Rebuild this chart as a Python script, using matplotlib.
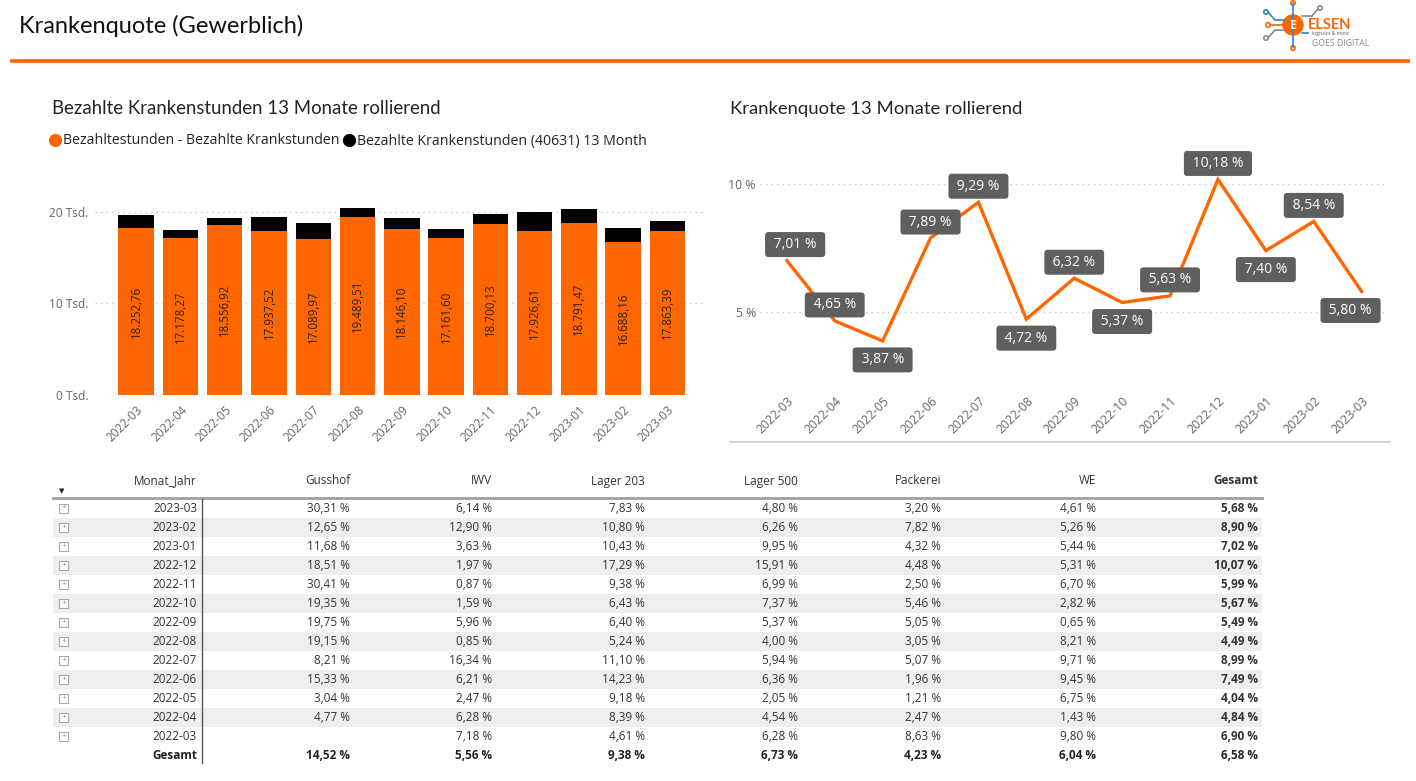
import matplotlib
matplotlib.use("Agg")
import matplotlib.pyplot as plt
from matplotlib.lines import Line2D
from matplotlib.patches import Circle, Rectangle

# ---------------- data ----------------
months = ["2022-03", "2022-04", "2022-05", "2022-06", "2022-07", "2022-08", "2022-09",
          "2022-10", "2022-11", "2022-12", "2023-01", "2023-02", "2023-03"]
paid_minus_sick = [18252.76, 17178.27, 18556.92, 17937.52, 17089.97, 19489.51, 18146.10,
                   17161.60, 18700.13, 17926.61, 18791.47, 16688.16, 17863.39]
sick_hours = [1376, 838, 747, 1536, 1750, 965, 1224, 974, 1116, 2032, 1502, 1558, 1100]
sick_rate = [7.01, 4.65, 3.87, 7.89, 9.29, 4.72, 6.32, 5.37, 5.63, 10.18, 7.40, 8.54, 5.80]
label_side = ["above", "above", "below", "above", "above", "below", "above",
              "below", "above", "above", "below", "above", "below"]

tbl_rows = ["2023-03", "2023-02", "2023-01", "2022-12", "2022-11", "2022-10", "2022-09",
            "2022-08", "2022-07", "2022-06", "2022-05", "2022-04", "2022-03"]
tbl_cols = ["Gusshof", "IWV", "Lager 203", "Lager 500", "Packerei", "WE", "Gesamt"]
gusshof = [30.31, 12.65, 11.68, 18.51, 30.41, 19.35, 19.75, 19.15, 8.21, 15.33, 3.04, 4.77, None]
iwv = [6.14, 12.90, 3.63, 1.97, 0.87, 1.59, 5.96, 0.85, 16.34, 6.21, 2.47, 6.28, 7.18]
lager203 = [7.83, 10.80, 10.43, 17.29, 9.38, 6.43, 6.40, 5.24, 11.10, 14.23, 9.18, 8.39, 4.61]
lager500 = [4.80, 6.26, 9.95, 15.91, 6.99, 7.37, 5.37, 4.00, 5.94, 6.36, 2.05, 4.54, 6.28]
packerei = [3.20, 7.82, 4.32, 4.48, 2.50, 5.46, 5.05, 3.05, 5.07, 1.96, 1.21, 2.47, 8.63]
we = [4.61, 5.26, 5.44, 5.31, 6.70, 2.82, 0.65, 8.21, 9.71, 9.45, 6.75, 1.43, 9.80]
gesamt = [5.68, 8.90, 7.02, 10.07, 5.99, 5.67, 5.49, 4.49, 8.99, 7.49, 4.04, 4.84, 6.90]
tbl_totals = [14.52, 5.56, 9.38, 6.73, 4.23, 6.04, 6.58]

# ---------------- style ----------------
plt.rcParams["font.family"] = ["Open Sans", "DejaVu Sans"]
ORANGE = "#FF6600"
TXT = "#252423"
W, H = 1416, 781

fig = plt.figure(figsize=(W / 100, H / 100), dpi=100)
fig.patch.set_facecolor("white")


def rect(x0, y0, x1, y1):
    return [x0 / W, 1 - y1 / H, (x1 - x0) / W, (y1 - y0) / H]


bg = fig.add_axes([0, 0, 1, 1], zorder=0)
bg.set_xlim(0, W)
bg.set_ylim(H, 0)
bg.axis("off")

# header
bg.text(19, 26, "Krankenquote (Gewerblich)", fontsize=17, color="#111111",
        ha="left", va="center", family=["Lato", "DejaVu Sans"])
bg.plot([10, 1410], [61, 61], color=ORANGE, lw=2.6, solid_capstyle="butt")

# logo
for (xs, ys, c) in [([1293, 1293], [3, 47], "#2E86C1"),
                    ([1284, 1275, 1268], [20, 20, 12], "#2E86C1"),
                    ([1283, 1270], [25, 25], ORANGE),
                    ([1284, 1275, 1268], [30, 30, 38], "#888888"),
                    ([1302, 1312, 1318], [16, 16, 9], "#888888"),
                    ([1302, 1308], [33, 33], "#2E86C1")]:
    bg.plot(xs, ys, color=c, lw=1.2)
for (cx, cy, c) in [(1266, 12, "#2E86C1"), (1268, 25, ORANGE), (1266, 38, "#888888"),
                    (1293, 3, ORANGE), (1293, 48, ORANGE), (1320, 8, "#888888")]:
    bg.add_patch(Circle((cx, cy), 2.2, fc="white", ec=c, lw=1.2))
bg.add_patch(Circle((1293, 25), 10, fc=ORANGE, ec=ORANGE))
bg.text(1293, 25.5, "E", color="white", fontsize=9, fontweight="bold", ha="center", va="center")
bg.text(1308, 25, "ELSEN", color=ORANGE, fontsize=10.5, fontweight="bold", ha="left", va="center",
        family=["Lato", "DejaVu Sans"])
bg.text(1312, 34, "logistics & more", color="#555555", fontsize=3.6, ha="left", va="center")
bg.text(1312, 43.5, "GOES DIGITAL", color="#888888", fontsize=6.3, ha="left", va="center")

# ---------------- bar chart ----------------
bg.text(52, 109, "Bezahlte Krankenstunden 13 Monate rollierend", fontsize=13.4, color=TXT,
        ha="left", va="center", family=["Lato", "DejaVu Sans"])

ax1 = fig.add_axes(rect(95, 200, 706, 395), zorder=2)
x = list(range(len(months)))
ax1.bar(x, paid_minus_sick, width=0.8, color=ORANGE, zorder=2,
        label="Bezahltestunden - Bezahlte Krankstunden")
ax1.bar(x, sick_hours, bottom=paid_minus_sick, width=0.8, color="black", zorder=2,
        label="Bezahlte Krankenstunden (40631) 13 Month")
for i, v in enumerate(paid_minus_sick):
    s = f"{v:,.2f}".replace(",", "X").replace(".", ",").replace("X", ".")
    ax1.text(i, v / 2, s, rotation=90, ha="center", va="center", fontsize=8.3, color=TXT, zorder=3)
ax1.set_xlim(-0.93, 12.87)
ax1.set_ylim(0, 21300)
ax1.set_yticks([0, 10000, 20000])
ax1.set_yticklabels(["0 Tsd.", "10 Tsd.", "20 Tsd."])
ax1.set_xticks(x)
ax1.set_xticklabels(months, rotation=45, ha="right", rotation_mode="anchor")
ax1.tick_params(axis="both", length=0, colors="#666666", labelsize=8.6)
ax1.tick_params(axis="y", pad=5)
ax1.tick_params(axis="x", pad=6)
ax1.grid(axis="y", color="#C8C8C8", linestyle=(0, (1, 3)), lw=1, zorder=0)
ax1.set_axisbelow(True)
for sp in ax1.spines.values():
    sp.set_visible(False)

handles = [Line2D([], [], marker="o", ls="none", color=ORANGE, markersize=8.5),
           Line2D([], [], marker="o", ls="none", color="black", markersize=8.5)]
fig.legend(handles, ["Bezahltestunden - Bezahlte Krankstunden",
                     "Bezahlte Krankenstunden (40631) 13 Month"],
           loc="center left", bbox_to_anchor=(51 / W, 1 - 141 / H), ncol=2, frameon=False,
           handlelength=0.6, handletextpad=0.25, columnspacing=0.4, borderpad=0,
           borderaxespad=0, fontsize=10.2, labelcolor=TXT)

# ---------------- line chart ----------------
bg.text(730, 109, "Krankenquote 13 Monate rollierend", fontsize=13.3, color=TXT,
        ha="left", va="center", family=["Lato", "DejaVu Sans"])

ax2 = fig.add_axes(rect(760, 150, 1388, 390), zorder=2)
ax2.plot(x, sick_rate, color=ORANGE, lw=2.4, zorder=3, solid_joinstyle="miter")
ax2.set_xlim(-0.56, 12.55)
ax2.set_ylim(1.95, 11.33)
ax2.set_yticks([5, 10])
ax2.set_yticklabels(["5 %", "10 %"])
ax2.set_xticks(x)
ax2.set_xticklabels(months, rotation=45, ha="right", rotation_mode="anchor")
ax2.tick_params(axis="both", length=0, colors="#666666", labelsize=8.8)
ax2.tick_params(axis="y", pad=3)
ax2.tick_params(axis="x", pad=3)
ax2.grid(axis="y", color="#C8C8C8", linestyle=(0, (1, 3)), lw=1, zorder=0)
for sp in ax2.spines.values():
    sp.set_visible(False)
n = len(sick_rate)
for i, (v, side) in enumerate(zip(sick_rate, label_side)):
    dy = 11.5 if side == "above" else -13.7
    dx = 6 if i == 0 else (-8 if i == n - 1 else 0)
    s = " " + f"{v:.2f}".replace(".", ",") + " % "
    ax2.annotate(s, (i, v), xytext=(dx, dy), textcoords="offset points", ha="center",
                 va="center", fontsize=10, color="white", zorder=5,
                 bbox=dict(boxstyle="round,pad=0.36,rounding_size=0.25", fc="#5F5F5F", ec="none"),
                 annotation_clip=False)
bg.plot([730, 1390], [442, 442], color="#D0D0D0", lw=1.2)

# ---------------- table ----------------
col_right = [350, 492, 645, 798, 941, 1096, 1258]
tfs = 8.5
bg.text(197, 481, "Monat_Jahr", ha="right", va="center", fontsize=tfs, color="#333333")
for c, xr in zip(tbl_cols, col_right):
    bg.text(xr, 481, c, ha="right", va="center", fontsize=tfs, color="#333333",
            fontweight="bold" if c == "Gesamt" else "normal")
bg.text(62, 492, "▼", ha="center", va="center", fontsize=5, color="#222222")
bg.plot([53, 1262], [498, 498], color="#A0A0A0", lw=2)

row_y0, row_h = 508, 19.05
series = [gusshof, iwv, lager203, lager500, packerei, we, gesamt]


def fmt(v):
    return "" if v is None else f"{v:.2f}".replace(".", ",") + " %"


for r, name in enumerate(tbl_rows):
    y = row_y0 + r * row_h
    if r % 2 == 1:
        bg.add_patch(Rectangle((53, y - row_h / 2), 1209, row_h, fc="#EEEEEE", ec="none", zorder=0))
    bg.add_patch(Rectangle((59, y - 4.5), 9, 9, fc="white", ec="#AAAAAA", lw=0.8, zorder=1))
    bg.text(63.5, y, "+", ha="center", va="center", fontsize=6, color="#888888")
    bg.text(197, y, name, ha="right", va="center", fontsize=tfs, color="#333333")
    for k, (vals, xr) in enumerate(zip(series, col_right)):
        bg.text(xr, y, fmt(vals[r]), ha="right", va="center", fontsize=tfs, color="#333333",
                fontweight="bold" if k == len(series) - 1 else "normal")
yt = row_y0 + len(tbl_rows) * row_h
bg.text(197, yt, "Gesamt", ha="right", va="center", fontsize=tfs, color="#222222", fontweight="bold")
for v, xr in zip(tbl_totals, col_right):
    bg.text(xr, yt, fmt(v), ha="right", va="center", fontsize=tfs, color="#222222", fontweight="bold")
bg.plot([202, 202], [499, 763], color="#555555", lw=1)

fig.savefig("out.png", dpi=100, facecolor="white")
